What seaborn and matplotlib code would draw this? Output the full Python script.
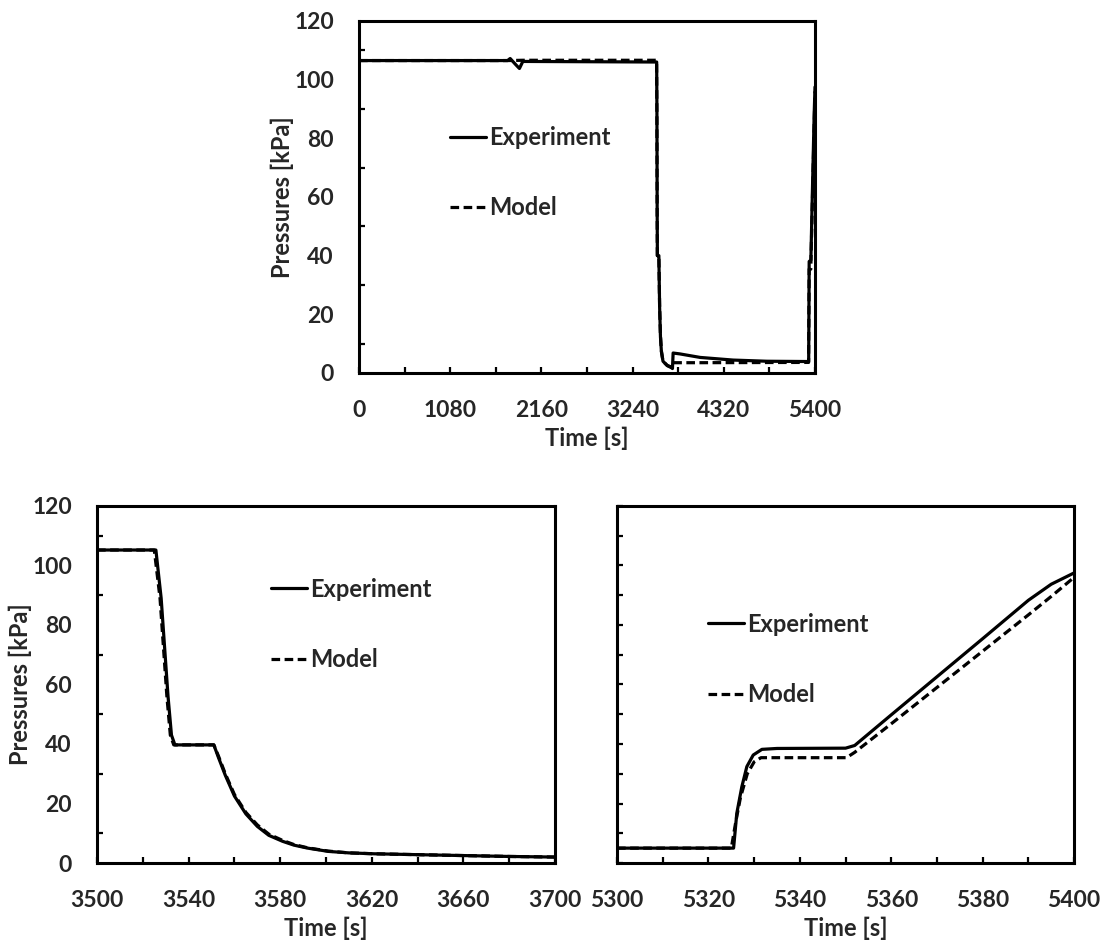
import matplotlib
matplotlib.use("Agg")
import matplotlib.pyplot as plt
import seaborn as sns
from matplotlib.ticker import FixedLocator
from matplotlib.lines import Line2D

# ---------------- data ----------------
# Overview panel, 0-5400 s
ov_t_exp = [0, 1760, 1790, 1860, 1900, 1940, 3525, 3528, 3531, 3533.5, 3551, 3560, 3570,
            3581, 3600, 3650, 3700, 3712, 3720, 3800, 4040, 4430, 4830, 5325, 5331, 5351,
            5370, 5390, 5400]
ov_p_exp = [106.5, 106.5, 107.2, 105.0, 103.8, 106.2, 106.0, 89, 56, 40, 40, 22.5, 12.3,
            7.3, 4.0, 2.5, 1.8, 1.5, 6.8, 6.5, 5.3, 4.4, 4.0, 3.9, 38.0, 38.5,
            63, 88, 97.5]
ov_t_mod = [0, 1760, 1940, 3524, 3527.5, 3530.5, 3533, 3551, 3560, 3570, 3581, 3600, 3650,
            3700, 3720, 4000, 5324, 5331, 5350, 5400]
ov_p_mod = [106.5, 106.5, 106.6, 106.6, 89, 56, 40, 40, 23, 12.8, 7.5, 4.0, 2.6,
            2.0, 3.5, 3.5, 3.6, 35.4, 35.4, 96]

# Venting detail, 3500-3700 s
vent_t_exp = [3500, 3525.7, 3528, 3531, 3532.5, 3534, 3551, 3553, 3556, 3560, 3565, 3570,
              3575, 3581, 3586, 3592, 3601, 3610, 3621, 3640, 3660, 3680, 3700]
vent_p_exp = [105.2, 105.2, 89, 56, 43, 39.7, 39.7, 35.5, 29.5, 22.5, 16.5, 12.3,
              9.3, 7.3, 6.0, 5.0, 3.9, 3.4, 3.1, 2.8, 2.5, 2.2, 2.0]
vent_t_mod = [3500, 3525.0, 3527.5, 3530.5, 3532, 3533.5, 3551, 3553, 3556, 3560, 3565, 3570,
              3575, 3581, 3586, 3592, 3601, 3610, 3621, 3640, 3660, 3680, 3700]
vent_p_mod = [105.2, 105.2, 89, 56, 43, 39.7, 39.7, 36.0, 30.0, 23.0, 17.0, 12.8,
              9.7, 7.6, 6.2, 5.1, 4.0, 3.4, 3.1, 2.8, 2.5, 2.2, 2.0]

# Repressurisation detail, 5300-5400 s
rep_t_exp = [5300, 5325.5, 5326.2, 5327.3, 5328.4, 5329.8, 5331.7, 5335, 5350, 5352, 5360,
             5370, 5380, 5390, 5395, 5400]
rep_p_exp = [5.0, 5.0, 16.7, 25.6, 32.4, 36.3, 38.2, 38.5, 38.6, 39.5, 49.8,
             62.6, 75.4, 88.3, 93.7, 97.5]
rep_t_mod = [5300, 5325, 5326, 5327, 5328.5, 5330, 5331.5, 5350.2, 5352, 5360, 5370, 5380,
             5390, 5395, 5400]
rep_p_mod = [5.0, 5.0, 14, 22, 30, 34, 35.4, 35.4, 37.2, 46.8, 59, 71.2,
             83.4, 89.6, 96]

# tick values
top_xticks = [0, 1080, 2160, 3240, 4320, 5400]
top_xminor = [540, 1620, 2700, 3780, 4860]
vent_xticks = [3500, 3540, 3580, 3620, 3660, 3700]
vent_xminor = [3520, 3560, 3600, 3640, 3680]
rep_xticks = [5300, 5320, 5340, 5360, 5380, 5400]
rep_xminor = [5310, 5330, 5350, 5370, 5390]
y_major = [0, 20, 40, 60, 80, 100, 120]
y_minor = [10, 30, 50, 70, 90, 110]

series_labels = ["Experiment", "Model"]
x_label = "Time [s]"
y_label = "Pressures [kPa]"

# ---------------- style ----------------
sns.set_theme(style="ticks")
plt.rcParams["font.family"] = ["Lato", "DejaVu Sans"]
plt.rcParams["font.weight"] = "bold"
plt.rcParams["axes.labelweight"] = "bold"
FS_TICK = 16.5
FS_TEXT = 17
LW = 2.3
DASH = (0, (2.7, 1.4))

fig = plt.figure(figsize=(11.09, 9.44), dpi=100)
ax_top = fig.add_axes([0.3237, 0.6049, 0.4112, 0.3729])
ax_bl = fig.add_axes([0.0875, 0.0858, 0.4130, 0.3782])
ax_br = fig.add_axes([0.5564, 0.0858, 0.4121, 0.3782])


def draw(ax, te, pe, tm, pm):
    sns.lineplot(x=te, y=pe, ax=ax, color="black", linewidth=LW,
                 estimator=None, sort=False)
    sns.lineplot(x=tm, y=pm, ax=ax, color="black", linewidth=LW,
                 estimator=None, sort=False, linestyle=DASH)


def style_axes(ax, xlim, xmajor, xminor, ylabels=True):
    ax.set_xlim(*xlim)
    ax.set_ylim(0, 120)
    for s in ax.spines.values():
        s.set_visible(True)
        s.set_linewidth(2.2)
        s.set_color("black")
    ax.xaxis.set_major_locator(FixedLocator(xmajor))
    ax.xaxis.set_minor_locator(FixedLocator(xminor))
    ax.set_xticklabels([str(v) for v in xmajor])
    ax.tick_params(axis="x", which="both", direction="in", length=4.5, width=1.6,
                   color="black", top=False, pad=19.5, labelsize=FS_TICK)
    if ylabels:
        ax.yaxis.set_major_locator(FixedLocator(y_major))
        ax.yaxis.set_minor_locator(FixedLocator(y_minor))
        ax.set_yticklabels([str(v) for v in y_major])
        ax.tick_params(axis="y", which="major", direction="in", length=0,
                       pad=18, labelsize=FS_TICK)
        ax.tick_params(axis="y", which="minor", direction="in", length=4.5,
                       width=1.6, color="black")
        ax.set_ylabel(y_label, fontsize=FS_TEXT, fontweight="bold", labelpad=0)
    else:
        ax.yaxis.set_major_locator(FixedLocator(sorted(y_major + y_minor)))
        ax.tick_params(axis="y", which="both", direction="in", length=4.5,
                       width=1.6, color="black", labelleft=False)
        ax.set_ylabel("")
    ax.tick_params(right=False, which="both")
    for lab in ax.get_xticklabels() + ax.get_yticklabels():
        lab.set_fontweight("bold")
    ax.set_xlabel(x_label, fontsize=FS_TEXT, fontweight="bold", labelpad=4)
    ax.grid(False)


def add_legend(ax, anchor):
    handles = [Line2D([], [], color="black", linewidth=LW),
               Line2D([], [], color="black", linewidth=LW, linestyle=DASH)]
    ax.legend(handles, series_labels, loc="upper left", bbox_to_anchor=anchor,
              frameon=False, handlelength=1.53, handletextpad=0.13,
              labelspacing=2.0, borderpad=0, borderaxespad=0,
              prop={"weight": "bold", "size": FS_TEXT})


draw(ax_top, ov_t_exp, ov_p_exp, ov_t_mod, ov_p_mod)
style_axes(ax_top, (0, 5400), top_xticks, top_xminor)
add_legend(ax_top, (0.1996, 0.702))

draw(ax_bl, vent_t_exp, vent_p_exp, vent_t_mod, vent_p_mod)
style_axes(ax_bl, (3500, 3700), vent_xticks, vent_xminor)
add_legend(ax_bl, (0.380, 0.799))

draw(ax_br, rep_t_exp, rep_p_exp, rep_t_mod, rep_p_mod)
style_axes(ax_br, (5300, 5400), rep_xticks, rep_xminor, ylabels=False)
add_legend(ax_br, (0.199, 0.701))

fig.savefig("out.png", dpi=100, facecolor="white")
